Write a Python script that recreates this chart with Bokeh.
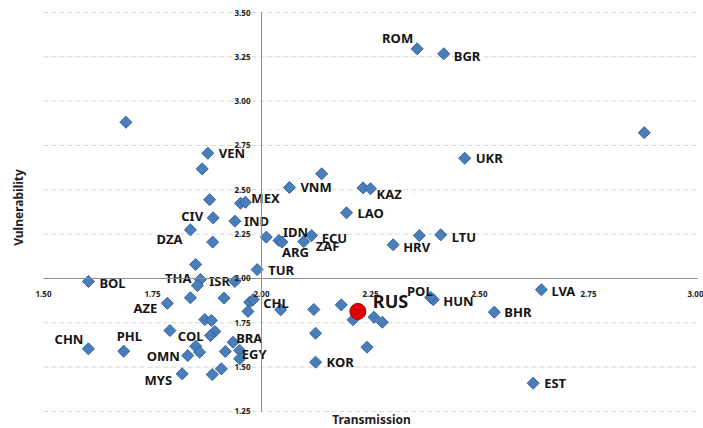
import math
from bokeh.plotting import figure
from bokeh.models import ColumnDataSource, FixedTicker, NumeralTickFormatter, Label
from bokeh.core.properties import value
from bokeh.embed import file_html
from bokeh.resources import INLINE

# ---- data ----
transmission = [2.357, 2.418, 2.878, 2.466, 2.233, 2.250, 2.195, 1.689, 1.877, 1.864,
                2.064, 2.138, 1.881, 1.952, 1.963, 1.889, 1.939, 1.837, 1.888, 2.011,
                2.040, 2.047, 2.115, 2.097, 1.849, 1.990, 1.603, 1.860, 1.853, 1.939,
                1.837, 1.914, 1.973, 1.981, 1.784, 1.969, 2.044, 2.120, 2.183, 2.210,
                1.870, 1.885, 1.790, 1.893, 1.883, 2.124, 1.603, 1.684, 1.849, 1.858,
                1.831, 1.935, 1.917, 1.950, 1.950, 1.818, 1.887, 1.908, 2.124, 2.302,
                2.362, 2.411, 2.394, 2.388, 2.258, 2.277, 2.242, 2.642, 2.534, 2.623]
vulnerability = [3.295, 3.267, 2.822, 2.678, 2.511, 2.506, 2.370, 2.881, 2.706, 2.618,
                 2.513, 2.590, 2.444, 2.424, 2.430, 2.342, 2.323, 2.274, 2.205, 2.233,
                 2.214, 2.205, 2.242, 2.208, 2.079, 2.050, 1.983, 1.994, 1.960, 1.983,
                 1.891, 1.889, 1.866, 1.881, 1.860, 1.814, 1.823, 1.825, 1.851, 1.767,
                 1.768, 1.763, 1.706, 1.701, 1.678, 1.691, 1.603, 1.590, 1.618, 1.584,
                 1.565, 1.640, 1.588, 1.594, 1.547, 1.462, 1.458, 1.490, 1.528, 2.190,
                 2.242, 2.246, 1.880, 1.893, 1.781, 1.753, 1.612, 1.936, 1.810, 1.409]
country = ["ROM", "BGR", "", "UKR", "", "KAZ", "LAO", "", "VEN", "",
           "VNM", "", "", "", "MEX", "CIV", "IND", "DZA", "", "",
           "IDN", "ARG", "ECU", "ZAF", "", "TUR", "BOL", "THA", "", "ISR",
           "", "", "", "CHL", "AZE", "", "", "", "", "",
           "", "", "", "", "COL", "", "CHN", "PHL", "", "",
           "OMN", "BRA", "", "", "EGY", "MYS", "", "", "KOR", "HRV",
           "", "LTU", "HUN", "POL", "", "", "", "LVA", "BHR", "EST"]

highlight_name = "RUS"
highlight_x = [2.221]
highlight_y = [1.814]

x_ticks = [1.50, 1.75, 2.00, 2.25, 2.50, 2.75, 3.00]
y_ticks = [1.25, 1.50, 1.75, 2.00, 2.25, 2.50, 2.75, 3.00, 3.25, 3.50]

# ---- label placement (style) ----
default_off = (11, 0, "left")
label_off = {
    "ROM": (-4, -11, "right"), "BGR": (10, 2, "left"), "KAZ": (6, 5, "left"),
    "MEX": (6, -4, "left"), "CIV": (-10, -2, "right"), "IND": (9, 0, "left"),
    "DZA": (-8, 9, "right"), "IDN": (4, -9, "left"), "ARG": (0, 10, "left"),
    "ECU": (10, 2, "left"), "ZAF": (12, 4, "left"), "BOL": (11, 2, "left"),
    "THA": (-9, -2, "right"), "ISR": (-5, 0, "right"), "CHL": (10, 3, "left"),
    "AZE": (-10, 5, "right"), "COL": (-7, 0, "right"), "CHN": (-5, -10, "right"),
    "PHL": (-7, -15, "left"), "OMN": (-8, 0, "right"), "BRA": (3, -4, "left"),
    "EGY": (2, -5, "left"), "MYS": (-10, 6, "right"), "HRV": (10, 2, "left"),
    "LTU": (11, 2, "left"), "HUN": (10, 1, "left"), "POL": (2, -6, "right"),
    "LVA": (10, 1, "left"), "BHR": (10, 0, "left"),
}

W, H = 703, 428
PX_X, PX_Y = 436.0, 177.3          # pixels per unit
LEFT, TOP = 43, 12                  # where x=1.50 / y=3.50 sit
x0 = x_ticks[0] - LEFT / PX_X
x1 = x_ticks[0] + (W - LEFT) / PX_X
y1 = y_ticks[-1] + TOP / PX_Y
y0 = y_ticks[-1] - (H - TOP) / PX_Y

p = figure(width=W, height=H, x_range=(x0, x1), y_range=(y0, y1),
           output_backend="svg", toolbar_location=None,
           min_border_left=0, min_border_right=0, min_border_top=0, min_border_bottom=0)
p.outline_line_color = None
p.background_fill_color = "white"
p.border_fill_color = "white"
p.xgrid.grid_line_color = None
p.ygrid.grid_line_color = None

# dashed horizontal gridlines spanning the x tick range
p.segment(x0=[x_ticks[0]] * len(y_ticks), x1=[x_ticks[-1]] * len(y_ticks),
          y0=y_ticks, y1=y_ticks, line_color="#d6d6d6", line_dash="5 3", line_width=1)

for ax, ticks in ((p.xaxis, x_ticks), (p.yaxis, y_ticks)):
    ax.ticker = FixedTicker(ticks=ticks)
    ax.formatter = NumeralTickFormatter(format="0.00")
    ax.fixed_location = 2.0
    ax.bounds = (ticks[0], ticks[-1])
    ax.axis_line_color = "#8c8c8c"
    ax.major_tick_line_color = None
    ax.minor_tick_line_color = None
    ax.major_label_text_font = "Noto Sans"
    ax.major_label_text_font_style = "bold"
    ax.major_label_text_font_size = "8px"
    ax.major_label_text_color = "#222222"
p.xaxis.major_label_standoff = 7
p.yaxis.major_label_standoff = 5

src = ColumnDataSource(dict(
    x=transmission, y=vulnerability, name=country,
    xo=[label_off.get(c, default_off)[0] for c in country],
    yo=[label_off.get(c, default_off)[1] for c in country],
    al=[label_off.get(c, default_off)[2] for c in country],
))

p.scatter("x", "y", source=src, marker="square", angle=math.pi / 4, size=8.5,
          fill_color="#4a7ebb", line_color="#33649c", line_width=1)
p.scatter(highlight_x, highlight_y, marker="circle", size=16,
          fill_color="#e00000", line_color="#a30000", line_width=1)

p.text("x", "y", text="name", source=src, x_offset="xo", y_offset="yo",
       text_align="al", text_baseline="middle",
       text_font=value("Noto Sans"), text_font_style="bold",
       text_font_size="13px", text_color="#151515")
p.text(highlight_x, highlight_y, text=[highlight_name], x_offset=15, y_offset=-10,
       text_align="left", text_baseline="middle",
       text_font=value("Noto Sans"), text_font_style="bold",
       text_font_size="18px", text_color="#151515")

p.add_layout(Label(x=x_ticks[0] + (371 - LEFT) / PX_X, y=y_ticks[-1] - (419 - TOP) / PX_Y,
                   text="Transmission", text_align="center",
                   text_baseline="middle", text_font="Noto Sans", text_font_style="bold",
                   text_font_size="12px", text_color="#222222"))
p.add_layout(Label(x=x_ticks[0] + (18 - LEFT) / PX_X, y=y_ticks[-1] - (207 - TOP) / PX_Y,
                   text="Vulnerability", angle=math.pi / 2,
                   text_align="center", text_baseline="middle", text_font="Noto Sans",
                   text_font_style="bold", text_font_size="12px", text_color="#222222"))

open("out.html", "w").write(file_html(p, INLINE))
